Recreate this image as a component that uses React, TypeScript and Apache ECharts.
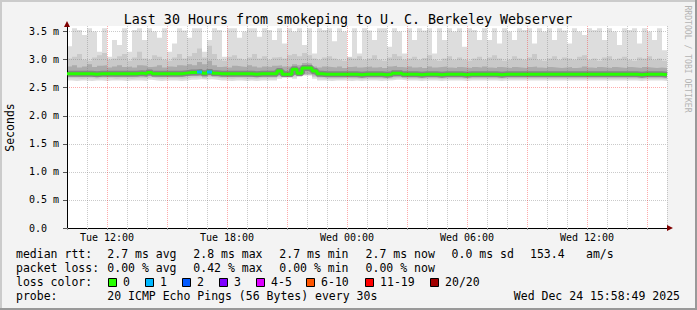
import React, { useEffect, useRef } from "react";
import * as echarts from "echarts";

// ---------- time grid (hours since Tue 00:00) ----------
const START_HOUR = 10;
const END_HOUR = 40;
const STEP_HOURS = 0.25;
const DAY_NAMES = ["Tue", "Wed"];

// ---------- smoke bands (ms), one value per 15-minute column ----------
const HI_A = [
  3.24, 3.56, 3.53, 3.44, 3.56, 3.5, 3.14, 3.56, 3.05, 3.35,
  3.26, 3.56, 3.14, 3.53, 3.56, 3.35, 3.56, 3.5, 3.39, 3.56,
  3.14, 3.29, 3.56, 3.52, 3.39, 3.56, 3.56, 3.14, 3.35, 3.56,
  3.53, 3.05, 3.56, 3.56, 3.39, 3.5, 3.56, 3.56, 3.41, 3.56,
  3.53, 3.35, 3.56, 3.29, 3.56, 3.5, 3.56, 3.26, 3.56, 3.11,
  3.56, 3.53, 3.56, 3.33, 3.56, 3.5, 3.05, 3.56, 3.11, 3.56,
  3.52, 3.35, 3.56, 3.56, 3.23, 3.56, 3.5, 3.11, 3.56, 3.35,
  3.56, 3.52, 3.56, 3.11, 3.56, 3.35, 3.56, 3.5, 3.56, 3.23,
  3.56, 3.53, 3.35, 3.56, 3.35, 3.56, 3.29, 3.56, 3.5, 3.35,
  3.56, 3.53, 3.56, 3.29, 3.56, 3.5, 3.56, 3.35, 3.56, 3.52,
  3.29, 3.56, 3.5, 3.44, 3.56, 3.53, 3.56, 3.35, 3.56, 3.5,
  3.26, 3.56, 3.53, 3.56, 3.29, 3.56, 3.5, 3.35, 3.56, 3.17,
];
const HI_B = [
  3.02, 3.05, 3.1, 3.0, 2.98, 3.04, 3.08, 3.12, 3.0, 3.02,
  3.06, 3.1, 2.98, 3.04, 3.14, 3.02, 3.0, 3.08, 3.05, 3.0,
  2.98, 3.04, 3.1, 3.02, 3.06, 3.12, 3.2, 3.04, 3.25, 3.1,
  3.0, 2.98, 3.05, 3.08, 3.02, 3.0, 3.04, 3.1, 3.02, 3.06,
  3.0, 3.04, 3.05, 3.02, 3.08, 3.1, 3.06, 3.12, 3.08, 3.02,
  3.0, 3.04, 3.06, 3.02, 3.0, 2.98, 3.04, 3.02, 3.06, 3.0,
  3.02, 3.08, 3.0, 2.98, 3.04, 3.1, 3.06, 3.0, 3.02, 3.05,
  3.0, 3.03, 3.08, 3.0, 2.98, 3.02, 3.06, 3.0, 3.04, 3.0,
  2.98, 3.02, 3.05, 3.0, 3.04, 3.08, 3.02, 2.98, 3.0, 3.06,
  3.02, 3.0, 3.04, 3.1, 3.0, 2.98, 3.02, 3.06, 3.0, 3.04,
  3.02, 3.0, 3.05, 3.08, 3.0, 3.02, 2.98, 3.04, 3.06, 3.0,
  3.02, 3.05, 3.0, 2.98, 3.04, 3.02, 3.06, 3.0, 3.02, 2.98,
];
const HI_C = [
  2.88, 2.9, 2.86, 2.88, 2.92, 2.87, 2.89, 2.9, 2.86, 2.88,
  2.9, 2.87, 2.88, 2.86, 2.9, 2.89, 2.87, 2.88, 2.9, 2.86,
  2.88, 2.87, 2.9, 2.89, 2.92, 2.9, 2.96, 2.92, 2.98, 2.9,
  2.87, 2.88, 2.86, 2.89, 2.88, 2.87, 2.9, 2.88, 2.86, 2.88,
  2.87, 2.89, 2.9, 2.88, 2.88, 2.92, 2.9, 2.94, 2.93, 2.88,
  2.86, 2.88, 2.87, 2.86, 2.88, 2.85, 2.87, 2.88, 2.86, 2.87,
  2.88, 2.86, 2.87, 2.85, 2.88, 2.89, 2.87, 2.86, 2.88, 2.86,
  2.87, 2.85, 2.88, 2.86, 2.87, 2.88, 2.86, 2.85, 2.87, 2.86,
  2.85, 2.87, 2.86, 2.88, 2.86, 2.85, 2.87, 2.86, 2.85, 2.87,
  2.86, 2.85, 2.87, 2.88, 2.86, 2.85, 2.87, 2.86, 2.85, 2.86,
  2.87, 2.85, 2.86, 2.88, 2.86, 2.85, 2.87, 2.86, 2.85, 2.87,
  2.86, 2.85, 2.87, 2.86, 2.85, 2.87, 2.86, 2.85, 2.86, 2.85,
];
const MEDIAN = [
  2.75, 2.75, 2.75, 2.75, 2.75, 2.74, 2.75, 2.75, 2.75, 2.75,
  2.75, 2.75, 2.75, 2.75, 2.76, 2.75, 2.77, 2.75, 2.75, 2.75,
  2.75, 2.75, 2.75, 2.76, 2.77, 2.77, 2.78, 2.76, 2.78, 2.76,
  2.75, 2.75, 2.75, 2.75, 2.75, 2.75, 2.75, 2.74, 2.75, 2.75,
  2.75, 2.75, 2.8, 2.74, 2.74, 2.83, 2.76, 2.85, 2.85, 2.8,
  2.75, 2.74, 2.74, 2.74, 2.74, 2.74, 2.74, 2.74, 2.73, 2.74,
  2.74, 2.74, 2.74, 2.73, 2.74, 2.76, 2.76, 2.74, 2.74, 2.74,
  2.73, 2.74, 2.74, 2.74, 2.73, 2.74, 2.74, 2.74, 2.74, 2.73,
  2.74, 2.74, 2.74, 2.74, 2.74, 2.74, 2.73, 2.74, 2.74, 2.74,
  2.74, 2.74, 2.74, 2.74, 2.74, 2.74, 2.74, 2.74, 2.74, 2.74,
  2.74, 2.74, 2.74, 2.74, 2.74, 2.74, 2.74, 2.74, 2.74, 2.74,
  2.74, 2.74, 2.74, 2.74, 2.73, 2.74, 2.74, 2.74, 2.74, 2.73,
];
const LO_C = [
  2.7, 2.7, 2.69, 2.7, 2.7, 2.7, 2.71, 2.7, 2.7, 2.69,
  2.7, 2.7, 2.7, 2.71, 2.7, 2.7, 2.71, 2.7, 2.69, 2.7,
  2.7, 2.7, 2.7, 2.71, 2.71, 2.71, 2.72, 2.7, 2.72, 2.71,
  2.7, 2.7, 2.69, 2.7, 2.7, 2.7, 2.69, 2.69, 2.7, 2.7,
  2.7, 2.7, 2.72, 2.72, 2.72, 2.73, 2.72, 2.74, 2.74, 2.72,
  2.7, 2.69, 2.69, 2.69, 2.69, 2.7, 2.69, 2.69, 2.68, 2.69,
  2.69, 2.69, 2.69, 2.68, 2.69, 2.7, 2.7, 2.69, 2.69, 2.69,
  2.68, 2.69, 2.69, 2.69, 2.68, 2.69, 2.69, 2.69, 2.69, 2.68,
  2.69, 2.69, 2.69, 2.69, 2.69, 2.69, 2.68, 2.69, 2.69, 2.69,
  2.69, 2.69, 2.69, 2.69, 2.69, 2.69, 2.69, 2.69, 2.69, 2.69,
  2.69, 2.69, 2.69, 2.69, 2.69, 2.69, 2.69, 2.69, 2.69, 2.69,
  2.69, 2.69, 2.69, 2.69, 2.68, 2.69, 2.69, 2.69, 2.69, 2.68,
];
const LO_B = [
  2.67, 2.67, 2.66, 2.67, 2.67, 2.66, 2.67, 2.67, 2.67, 2.66,
  2.67, 2.67, 2.66, 2.67, 2.67, 2.67, 2.68, 2.67, 2.66, 2.67,
  2.67, 2.67, 2.66, 2.67, 2.68, 2.68, 2.69, 2.67, 2.69, 2.68,
  2.67, 2.67, 2.66, 2.67, 2.67, 2.66, 2.66, 2.66, 2.67, 2.67,
  2.67, 2.67, 2.69, 2.72, 2.72, 2.7, 2.72, 2.72, 2.72, 2.69,
  2.67, 2.66, 2.66, 2.66, 2.66, 2.67, 2.66, 2.66, 2.65, 2.66,
  2.66, 2.66, 2.66, 2.65, 2.66, 2.67, 2.67, 2.66, 2.66, 2.66,
  2.65, 2.66, 2.66, 2.66, 2.65, 2.66, 2.66, 2.66, 2.66, 2.65,
  2.66, 2.66, 2.66, 2.66, 2.66, 2.66, 2.65, 2.66, 2.66, 2.66,
  2.66, 2.66, 2.66, 2.66, 2.66, 2.66, 2.66, 2.66, 2.66, 2.66,
  2.66, 2.66, 2.66, 2.66, 2.66, 2.66, 2.66, 2.66, 2.66, 2.66,
  2.66, 2.66, 2.66, 2.66, 2.65, 2.66, 2.66, 2.66, 2.66, 2.65,
];
const LO_A = [
  2.63, 2.62, 2.63, 2.63, 2.62, 2.63, 2.63, 2.62, 2.63, 2.63,
  2.63, 2.62, 2.63, 2.63, 2.63, 2.62, 2.64, 2.63, 2.62, 2.63,
  2.63, 2.63, 2.62, 2.63, 2.64, 2.64, 2.65, 2.64, 2.65, 2.64,
  2.63, 2.63, 2.62, 2.63, 2.63, 2.62, 2.63, 2.62, 2.63, 2.63,
  2.63, 2.63, 2.66, 2.72, 2.72, 2.66, 2.72, 2.72, 2.72, 2.66,
  2.63, 2.63, 2.62, 2.63, 2.63, 2.63, 2.62, 2.63, 2.62, 2.63,
  2.63, 2.63, 2.62, 2.63, 2.63, 2.64, 2.64, 2.63, 2.63, 2.63,
  2.62, 2.63, 2.63, 2.63, 2.62, 2.63, 2.63, 2.63, 2.63, 2.62,
  2.63, 2.63, 2.63, 2.63, 2.63, 2.63, 2.62, 2.63, 2.63, 2.63,
  2.63, 2.63, 2.63, 2.63, 2.63, 2.63, 2.63, 2.63, 2.63, 2.63,
  2.63, 2.63, 2.63, 2.63, 2.63, 2.63, 2.63, 2.63, 2.63, 2.63,
  2.63, 2.63, 2.63, 2.63, 2.62, 2.63, 2.63, 2.63, 2.63, 2.62,
];
// columns whose median is drawn in a loss colour, and their lost-ping counts
const LOSS_COLUMNS = [26, 28];
const LOSS_COUNTS = [1, 1];

// ---------- legend ----------
const LOSS_LEGEND = ["0", "1", "2", "3", "4-5", "6-10", "11-19", "20/20"];
const LOSS_COLORS = ["#26ff00", "#00b8ff", "#0059ff", "#7e00ff", "#dd00ff", "#ff5500", "#ff0000", "#a10000"];
const RTT_STATS = [2.7, 2.8, 2.7, 2.7, 0.0];
const RTT_STAT_NAMES = ["avg", "max", "min", "now", "sd"];
const AM_PER_S = 153.4;
const LOSS_STATS = [0.0, 0.42, 0.0, 0.0];
const LOSS_STAT_NAMES = ["avg", "max", "min", "now"];
const PROBE_TEXT = "20 ICMP Echo Pings (56 Bytes) every 30s";
const TIMESTAMP_TEXT = "Wed Dec 24 15:58:49 2025";
const TITLE = "Last 30 Hours from smokeping to U. C. Berkeley Webserver";

const MONO = "'DejaVu Sans Mono', monospace";
const GRID_MINOR = "rgba(128,128,128,0.42)";
const GRID_MAJOR = "rgba(255,0,0,0.33)";

function toPoints(arr: number[]) {
  const pts: [number, number][] = arr.map((v, i) => [START_HOUR + i * STEP_HOURS, v]);
  pts.push([END_HOUR, arr[arr.length - 1]]);
  return pts;
}

function areaSeries(arr: number[], color: string) {
  return {
    type: "line",
    data: toPoints(arr),
    step: "end",
    symbol: "none",
    silent: true,
    z: 1,
    lineStyle: { width: 0, color },
    areaStyle: { color, opacity: 1 },
  };
}

function buildGraphics() {
  const els: any[] = [];
  const txt = (text: string, x: number, y: number, extra: any = {}, styleExtra: any = {}) =>
    els.push({
      type: "text",
      x,
      y,
      ...extra,
      style: { text, fontFamily: MONO, fontSize: 11.5, fill: "#000", align: "left", verticalAlign: "middle", ...styleExtra },
    });
  // frame shading
  els.push({ type: "rect", shape: { x: 0, y: 0, width: 697, height: 2 }, style: { fill: "#cbcbcb" } });
  els.push({ type: "rect", shape: { x: 0, y: 0, width: 2, height: 310 }, style: { fill: "#cbcbcb" } });
  els.push({ type: "rect", shape: { x: 0, y: 308, width: 697, height: 2 }, style: { fill: "#999999" } });
  els.push({ type: "rect", shape: { x: 695, y: 0, width: 2, height: 310 }, style: { fill: "#999999" } });
  // axis arrows
  els.push({ type: "polygon", z: 10, shape: { points: [[67, 21], [64, 27], [70, 27]] }, style: { fill: "#7f0000" } });
  els.push({ type: "polygon", z: 10, shape: { points: [[673, 228], [667, 225], [667, 231]] }, style: { fill: "#7f0000" } });
  // title, axis title, credit
  txt(TITLE, 348, 19.5, {}, { fontSize: 13.3, align: "center" });
  txt("Seconds", 10, 127.5, { rotation: Math.PI / 2 }, { align: "center" });
  txt("RRDTOOL / TOBI OETIKER", 687.5, 59, { rotation: -Math.PI / 2 }, { fontSize: 8.1, fill: "#b4b4b4", align: "center" });
  // legend rows
  const colX = [107.3, 193.3, 279.3, 365.6, 451.6];
  txt("median rtt:", 16, 254.3);
  RTT_STATS.forEach((v, i) => txt(`${v.toFixed(1)} ms ${RTT_STAT_NAMES[i]}`, colX[i], 254.3));
  txt(AM_PER_S.toFixed(1), 530, 254.3);
  txt("am/s", 586, 254.3);
  txt("packet loss:", 16, 268.3);
  LOSS_STATS.forEach((v, i) => txt(`${v.toFixed(2)} % ${LOSS_STAT_NAMES[i]}`, colX[i], 268.3));
  txt("loss color:", 16, 282.3);
  const boxX = [108.5, 145.5, 182.5, 219.5, 256.5, 306.5, 365.5, 430.5];
  LOSS_LEGEND.forEach((lab, i) => {
    els.push({
      type: "rect",
      shape: { x: boxX[i], y: 278.5, width: 8, height: 8 },
      style: { fill: LOSS_COLORS[i], stroke: "#000", lineWidth: 1 },
    });
    txt(lab, boxX[i] + 14.6, 282.3);
  });
  txt("probe:", 16, 296.2);
  txt(PROBE_TEXT, 107.3, 296.2);
  txt(TIMESTAMP_TEXT, 680, 296.2, {}, { align: "right" });
  return els;
}

export default function App() {
  const ref = useRef<HTMLDivElement>(null);
  useEffect(() => {
    if (!ref.current) return;
    const chart = echarts.init(ref.current, null, { renderer: "svg" });
    const lossSeries = LOSS_COLUMNS.map((k, i) => ({
      type: "line",
      data: [
        [START_HOUR + k * STEP_HOURS, MEDIAN[k]],
        [START_HOUR + (k + 1) * STEP_HOURS, MEDIAN[k]],
      ],
      symbol: "none",
      silent: true,
      z: 5,
      lineStyle: { width: 3, color: LOSS_COLORS[LOSS_COUNTS[i]], cap: "butt" },
    }));
    const option: any = {
      animation: false,
      backgroundColor: "#f3f3f3",
      grid: { left: 67, right: 30, top: 26, bottom: 82, show: true, backgroundColor: "#ffffff", borderWidth: 0 },
      xAxis: {
        type: "value",
        min: START_HOUR,
        max: END_HOUR,
        interval: 1,
        z: 3,
        axisLine: { show: true, onZero: false, lineStyle: { color: "#000", width: 1 } },
        axisTick: { show: true, length: 2, lineStyle: { color: "#999" } },
        axisLabel: {
          margin: 4,
          fontFamily: MONO,
          fontSize: 10,
          color: "#000",
          formatter: (v: number) => {
            if (Math.round(v) % 6 !== 0) return "";
            const day = DAY_NAMES[Math.floor(v / 24) % DAY_NAMES.length];
            const h = Math.round(v) % 24;
            return `${day} ${h < 10 ? "0" + h : h}:00`;
          },
        },
        splitLine: { show: true, lineStyle: { color: [GRID_MINOR, GRID_MINOR, GRID_MAJOR], type: [1, 1], width: 1 } },
      },
      yAxis: {
        type: "value",
        min: 0,
        max: 3.6,
        interval: 0.1,
        z: 3,
        axisLine: { show: true, lineStyle: { color: "#000", width: 1 } },
        axisTick: { show: true, length: 4, lineStyle: { color: "#555" }, customValues: [0, 0.5, 1, 1.5, 2, 2.5, 3, 3.5] },
        axisLabel: {
          margin: 8,
          fontFamily: MONO,
          fontSize: 10,
          color: "#000",
          formatter: (v: number) => {
            const t = Math.round(v * 10);
            if (t % 5 !== 0 || t > 35) return "";
            if (t === 0) return "{z|0.0}";
            return `${(t / 10).toFixed(1)} m`;
          },
          rich: { z: { fontFamily: MONO, fontSize: 10, color: "#000", padding: [0, 12, 0, 0] } },
        },
        splitLine: {
          show: true,
          lineStyle: { color: [GRID_MAJOR, GRID_MINOR, GRID_MINOR, GRID_MINOR, GRID_MINOR], type: [1, 1], width: 1 },
        },
      },
      series: [
        areaSeries(HI_A, "#dddddd"),
        areaSeries(HI_B, "#c9c9c9"),
        areaSeries(HI_C, "#ababab"),
        areaSeries(LO_C, "#c9c9c9"),
        areaSeries(LO_B, "#dddddd"),
        areaSeries(LO_A, "#ffffff"),
        {
          type: "line",
          data: toPoints(MEDIAN),
          step: "end",
          symbol: "none",
          silent: true,
          z: 2,
          lineStyle: { width: 6, color: "#858585" },
        },
        {
          type: "line",
          data: toPoints(MEDIAN),
          step: "end",
          symbol: "none",
          silent: true,
          z: 4,
          lineStyle: { width: 3, color: LOSS_COLORS[0] },
        },
        ...lossSeries,
      ],
      graphic: { elements: buildGraphics() },
    };
    chart.setOption(option);
    return () => chart.dispose();
  }, []);
  return (
    <div style={{ position: "absolute", left: 0, top: 0, width: 697, height: 310 }}>
      <div ref={ref} style={{ width: 697, height: 310 }} />
    </div>
  );
}
